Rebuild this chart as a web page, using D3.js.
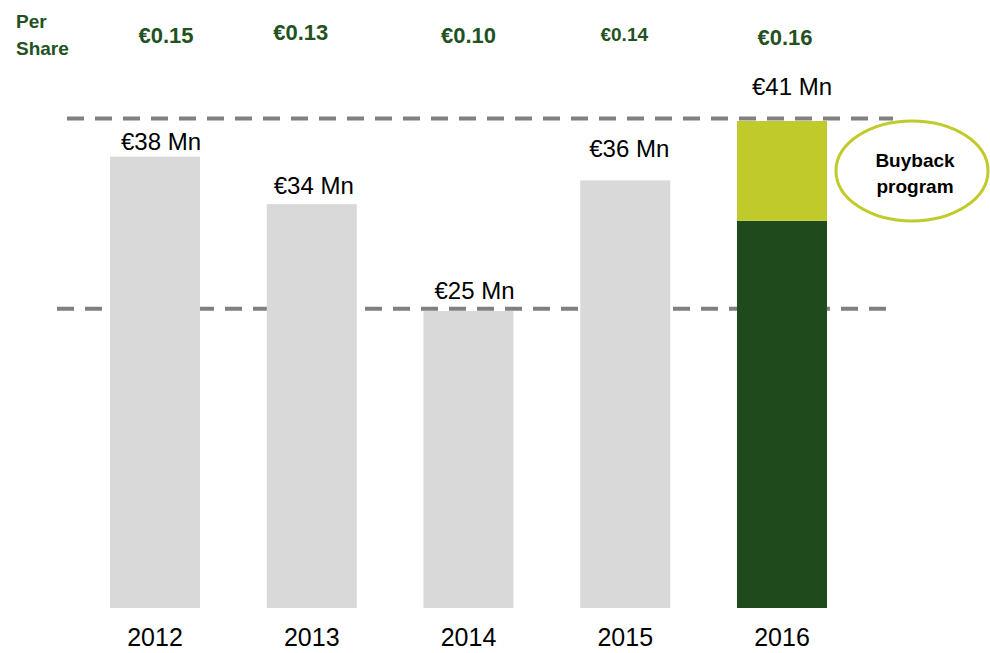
<!DOCTYPE html>
<html>
<head>
<meta charset="utf-8">
<script src="https://cdn.jsdelivr.net/npm/d3@7"></script>
<style>
  html, body { margin: 0; padding: 0; background: #fff; }
  svg { display: block; font-family: "Liberation Sans", Arial, sans-serif; }
</style>
</head>
<body>
<svg id="chart" width="990" height="653"></svg>
<script>
// ---- data ----
const years = ["2012", "2013", "2014", "2015", "2016"];
const dividend = [38, 34, 25, 36, 32.6];      // € Mn (base dividend)
const buyback = [0, 0, 0, 0, 8.4];            // € Mn (buyback program)
const totalLabels = ["€38 Mn", "€34 Mn", "€25 Mn", "€36 Mn", "€41 Mn"];
const perShare = ["€0.15", "€0.13", "€0.10", "€0.14", "€0.16"];
const refLines = [41.2, 25.2];

// ---- layout (not data) ----
const labelGap = [7, 10, 12, 23, 26];
const labelDx = [6, 2, 6, 4, 10];
const psDx = [11, -11, 0, -1, 3];
const psBase = [43, 40, 43, 41, 45];
const psSize = [22, 22, 22, 19, 22];

const svg = d3.select("#chart");
const x = d3.scalePoint().domain(years).range([155, 782]);
const y = d3.scaleLinear().domain([0, 41]).range([608, 121]);
const barW = 90;

const colGray = "#d9d9d9", colDark = "#1f4a1c", colLime = "#c0cb2b", colText = "#235222";

// reference dashed lines
const refExtent = [[67, 893], [57, 888]];
svg.selectAll("line.ref").data(refLines).join("line")
  .attr("class", "ref")
  .attr("x1", (d, i) => refExtent[i][0]).attr("x2", (d, i) => refExtent[i][1])
  .attr("y1", d => y(d)).attr("y2", d => y(d))
  .attr("stroke", "#808080").attr("stroke-width", 4)
  .attr("stroke-dasharray", "17,11");

// bars
const rows = years.map((yr, i) => ({ yr, i, base: dividend[i], bb: buyback[i] }));
svg.selectAll("rect.base").data(rows).join("rect")
  .attr("class", "base")
  .attr("x", d => x(d.yr) - barW / 2).attr("width", barW)
  .attr("y", d => y(d.base)).attr("height", d => y(0) - y(d.base))
  .attr("fill", d => d.bb > 0 ? colDark : colGray);
svg.selectAll("rect.bb").data(rows.filter(d => d.bb > 0)).join("rect")
  .attr("class", "bb")
  .attr("x", d => x(d.yr) - barW / 2).attr("width", barW)
  .attr("y", d => y(d.base + d.bb)).attr("height", d => y(d.base) - y(d.base + d.bb))
  .attr("fill", colLime);

// total labels
svg.selectAll("text.tot").data(rows).join("text")
  .attr("class", "tot")
  .attr("x", d => x(d.yr) + labelDx[d.i])
  .attr("y", d => y(d.base + d.bb) - labelGap[d.i])
  .attr("text-anchor", "middle").attr("font-size", 24).attr("fill", "#000")
  .text(d => totalLabels[d.i]);

// year axis labels
svg.selectAll("text.yr").data(rows).join("text")
  .attr("class", "yr")
  .attr("x", d => x(d.yr)).attr("y", 646)
  .attr("text-anchor", "middle").attr("font-size", 25).attr("fill", "#000")
  .text(d => d.yr);

// per share labels
svg.append("text").attr("x", 16).attr("y", 28).attr("font-size", 19)
  .attr("font-weight", "bold").attr("fill", colText).text("Per");
svg.append("text").attr("x", 16).attr("y", 55).attr("font-size", 19)
  .attr("font-weight", "bold").attr("fill", colText).text("Share");
svg.selectAll("text.ps").data(rows).join("text")
  .attr("class", "ps")
  .attr("x", d => x(d.yr) + psDx[d.i]).attr("y", d => psBase[d.i])
  .attr("text-anchor", "middle").attr("font-size", d => psSize[d.i])
  .attr("font-weight", "bold").attr("fill", colText)
  .text(d => perShare[d.i]);

// buyback callout
const last = rows[rows.length - 1];
const cy = (y(last.base + last.bb) + y(last.base)) / 2;
const cx = x(last.yr) + barW / 2 + 85;
svg.append("ellipse").attr("cx", cx).attr("cy", cy).attr("rx", 76).attr("ry", 50)
  .attr("fill", "#fff").attr("stroke", colLime).attr("stroke-width", 3);
svg.append("text").attr("x", cx + 3).attr("y", cy - 4).attr("text-anchor", "middle")
  .attr("font-size", 19).attr("font-weight", "bold").attr("fill", "#000").text("Buyback");
svg.append("text").attr("x", cx + 3).attr("y", cy + 22).attr("text-anchor", "middle")
  .attr("font-size", 19).attr("font-weight", "bold").attr("fill", "#000").text("program");
</script>
</body>
</html>
